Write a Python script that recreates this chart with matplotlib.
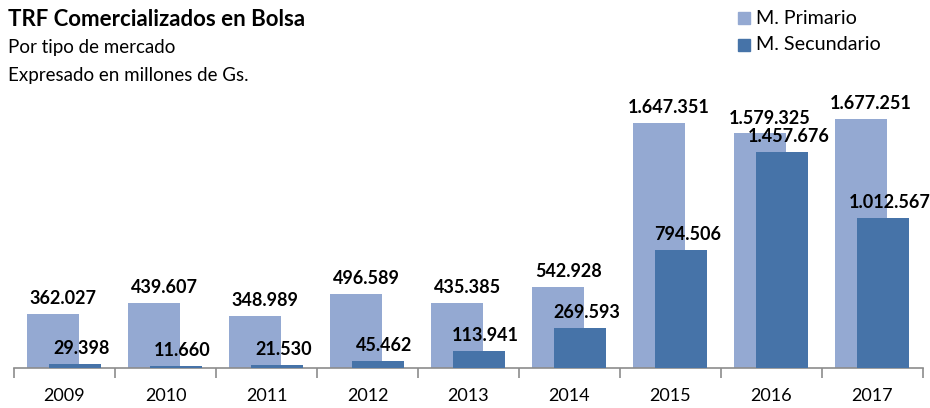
import matplotlib
matplotlib.use("Agg")
import matplotlib.pyplot as plt
from matplotlib.patches import Rectangle
import numpy as np

years = ["2009", "2010", "2011", "2012", "2013", "2014", "2015", "2016", "2017"]
primario = [362027, 439607, 348989, 496589, 435385, 542928, 1647351, 1579325, 1677251]
secundario = [29398, 11660, 21530, 45462, 113941, 269593, 794506, 1457676, 1012567]
series_names = ["M. Primario", "M. Secundario"]

c_prim = "#94A9D2"
c_sec = "#4673A8"
font = "Lato"

W, H = 930, 408
fig = plt.figure(figsize=(W / 100, H / 100), dpi=100)
ax_left, ax_right = 14, 923
ax_bottom, ax_top = 368, 40
ax = fig.add_axes([ax_left / W, 1 - ax_bottom / H, (ax_right - ax_left) / W, (ax_bottom - ax_top) / H])

x = np.arange(len(years))
bw = 0.515
b1 = ax.bar(x - 0.11, primario, width=bw, color=c_prim, zorder=2)
b2 = ax.bar(x + 0.10, secundario, width=bw, color=c_sec, zorder=3)

ax.set_xlim(-0.5, len(years) - 0.5)
ax.set_ylim(0, 328 / 0.1485 * 1000)

def fmt(v):
    return f"{v:,}".replace(",", ".")

for xi, v in zip(x, primario):
    ax.annotate(fmt(v), (xi - 0.11, v), xytext=(7, 5), textcoords="offset points",
                ha="center", va="bottom", fontsize=13, fontweight="bold",
                family=font, zorder=5)
for xi, v in zip(x, secundario):
    ax.annotate(fmt(v), (xi + 0.10, v), xytext=(5, 5), textcoords="offset points",
                ha="center", va="bottom", fontsize=13, fontweight="bold",
                family=font, zorder=5)

for s in ["top", "right", "left"]:
    ax.spines[s].set_visible(False)
ax.spines["bottom"].set_color("#8C8C8C")
ax.spines["bottom"].set_linewidth(1.2)
ax.set_yticks([])
ax.set_xticks(np.arange(-0.5, len(years) + 0.5, 1.0))
ax.set_xticklabels([])
ax.tick_params(axis="x", length=7, width=1.2, color="#8C8C8C", direction="out")
for xi, lab in zip(x, years):
    ax.text(xi, -0.085, lab, transform=ax.get_xaxis_transform(), ha="center", va="center",
            fontsize=13, family=font)

fig.text(8 / W, 1 - 20 / H, "TRF Comercializados en Bolsa", fontsize=16, fontweight="bold",
         family=font, ha="left", va="center")
fig.text(8 / W, 1 - 48 / H, "Por tipo de mercado", fontsize=13.5, family=font, ha="left", va="center")
fig.text(8 / W, 1 - 75 / H, "Expresado en millones de Gs.", fontsize=13.5, family=font, ha="left", va="center")

for i, (name, c) in enumerate(zip(series_names, [c_prim, c_sec])):
    yc = 18 + i * 27
    fig.patches.append(Rectangle((738 / W, 1 - (yc + 6) / H), 12 / W, 12 / H, transform=fig.transFigure,
                                 color=c, figure=fig))
    fig.text(756 / W, 1 - yc / H, name, fontsize=14.2, family=font, ha="left", va="center")

fig.savefig("out.png", dpi=100)
